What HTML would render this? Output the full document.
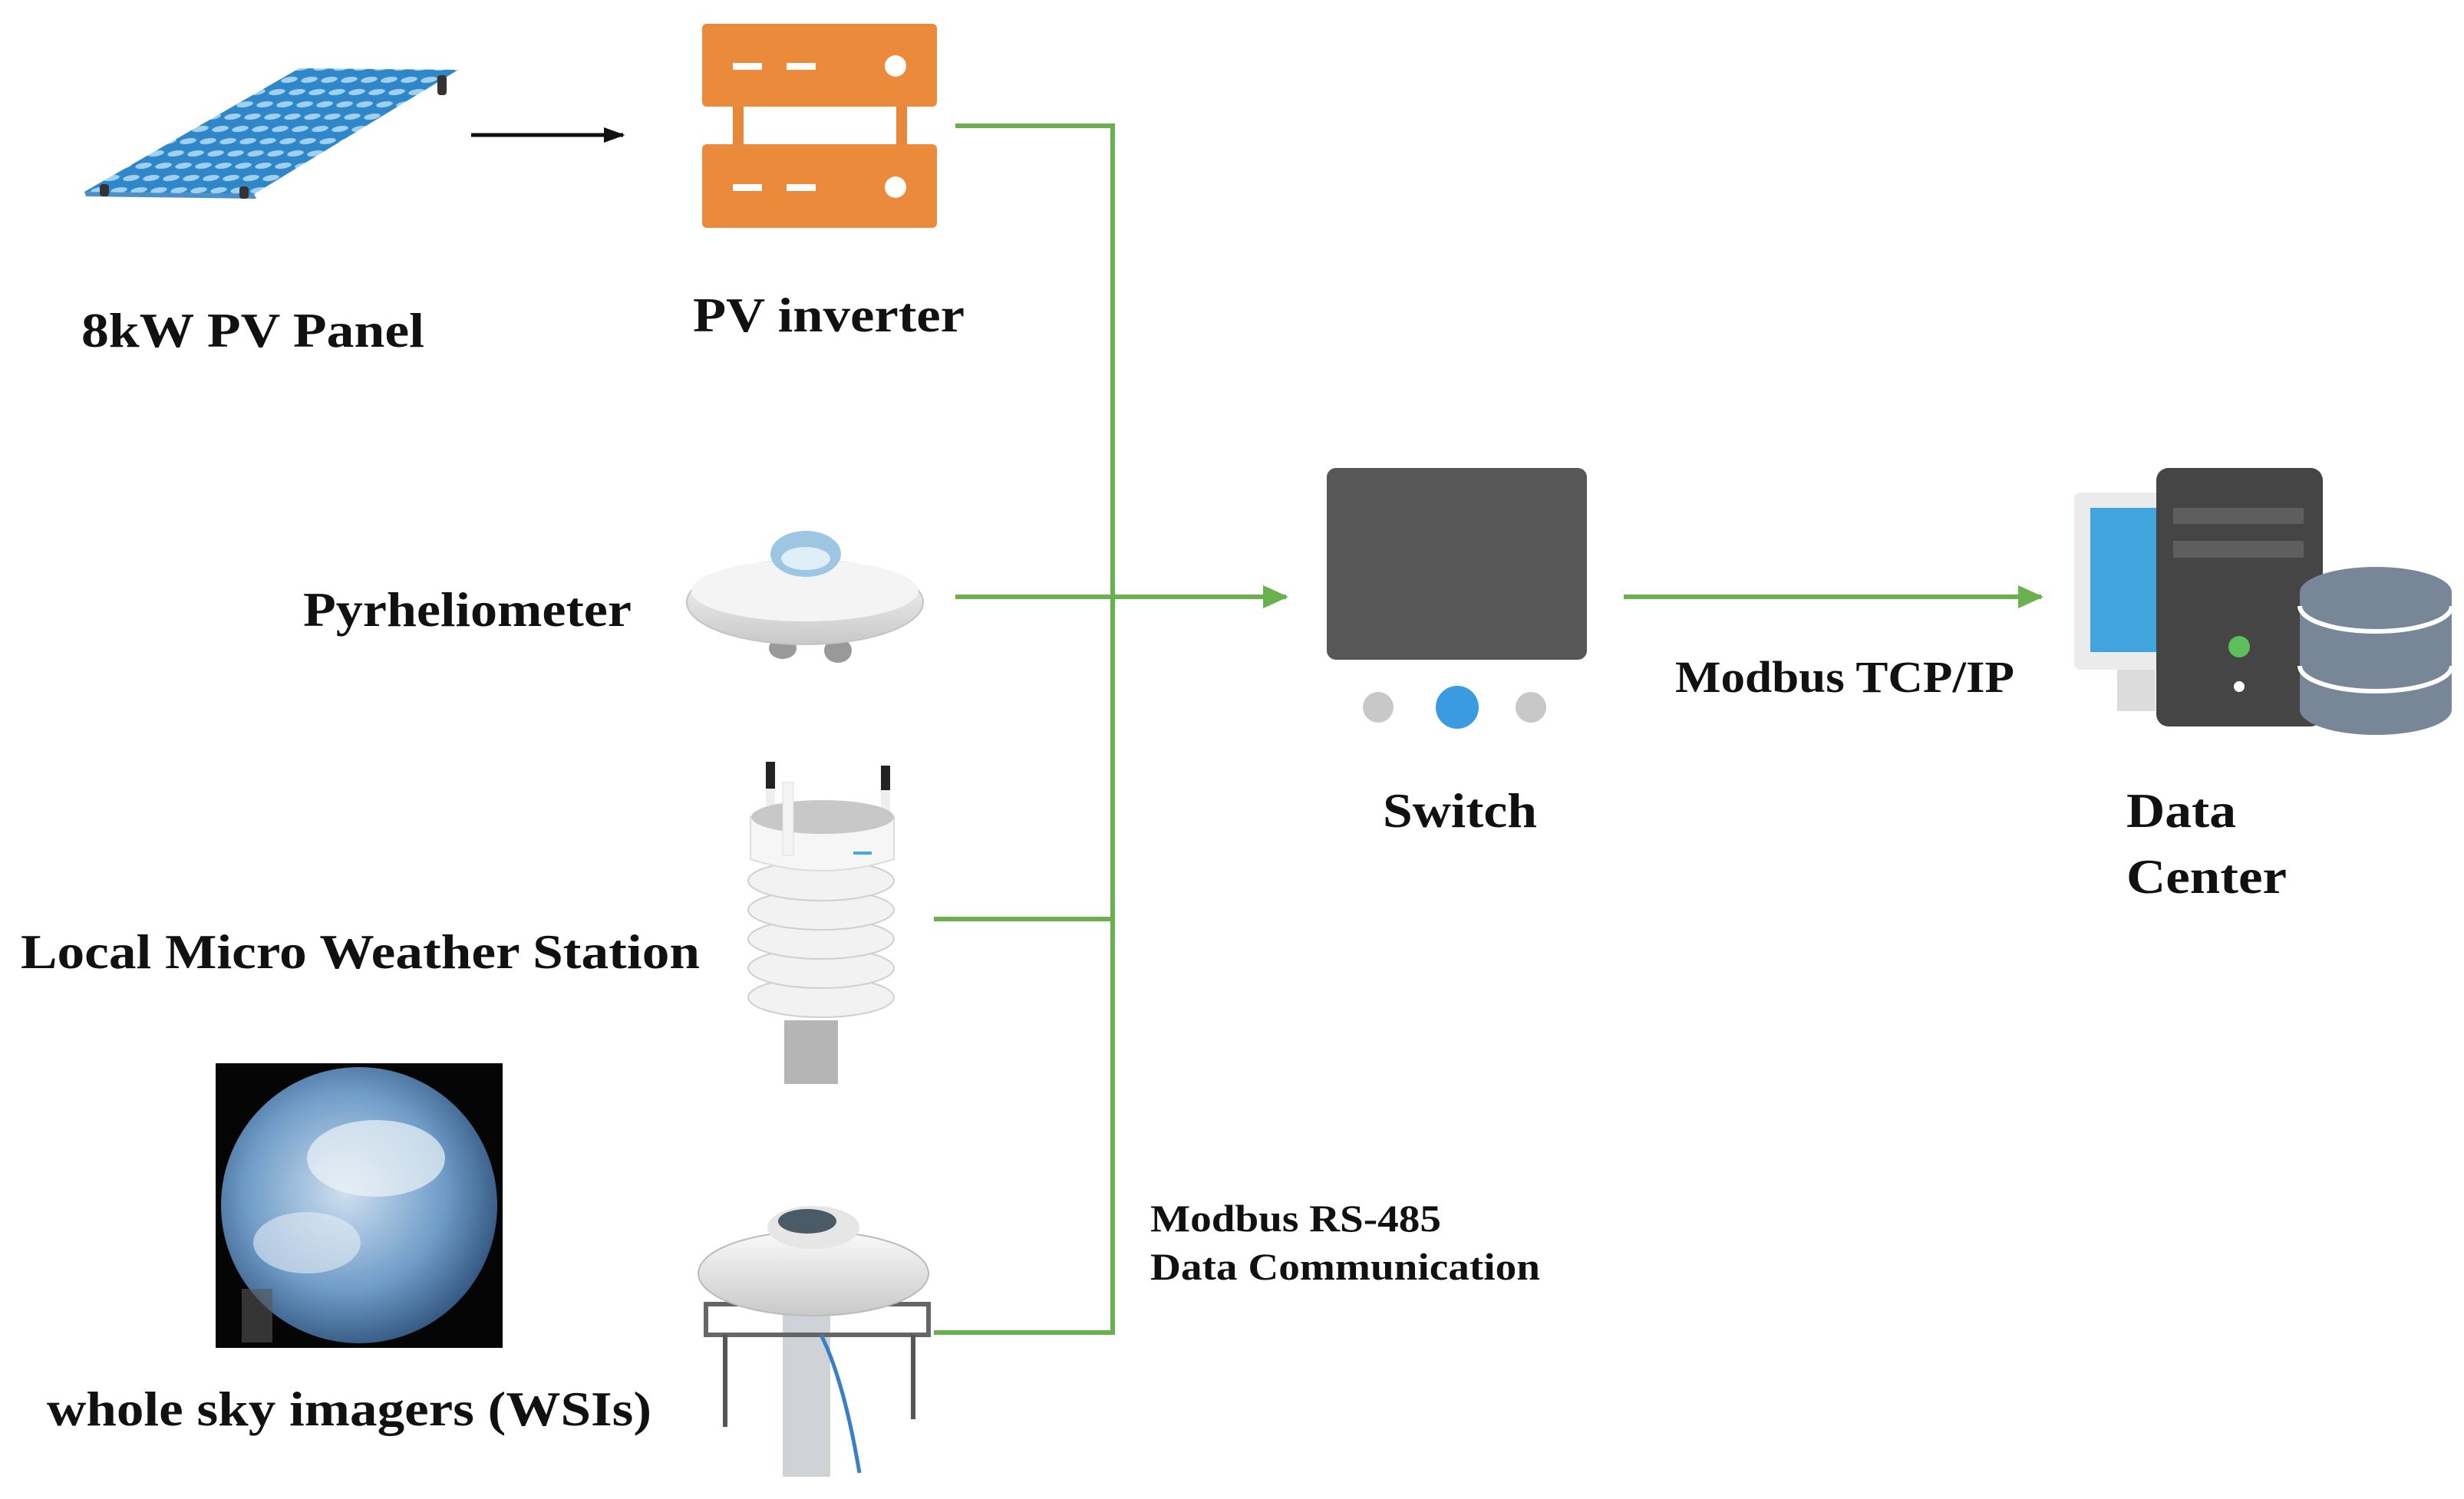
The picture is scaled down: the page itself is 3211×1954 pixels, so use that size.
<!DOCTYPE html>
<html><head><meta charset="utf-8"><style>
html,body{margin:0;padding:0;background:#fff}
svg{display:block}
text{font-family:"Liberation Serif",serif;font-weight:bold;fill:#111}
</style></head><body>
<svg width="3211" height="1954" viewBox="0 0 3211 1954" xmlns="http://www.w3.org/2000/svg">
<defs>
<pattern id="cells" width="26" height="16" patternUnits="userSpaceOnUse" patternTransform="skewX(-45)"><rect width="26" height="16" fill="#2f86c8"/><ellipse cx="13" cy="8" rx="10" ry="4" fill="#9fd0f0"/></pattern>
<radialGradient id="sky" cx="0.45" cy="0.45" r="0.6"><stop offset="0" stop-color="#cfe0f0"/><stop offset="0.6" stop-color="#6f9cc8"/><stop offset="1" stop-color="#2d4f78"/></radialGradient>
<linearGradient id="disc" x1="0" y1="0" x2="0" y2="1"><stop offset="0" stop-color="#fafafa"/><stop offset="1" stop-color="#c9c9c9"/></linearGradient>
<marker id="ga" markerWidth="6" markerHeight="6" refX="5" refY="3" orient="auto" markerUnits="strokeWidth"><path d="M0,0.5 L5.5,3 L0,5.5 z" fill="#6ab04c"/></marker>
<marker id="ka" markerWidth="6" markerHeight="6" refX="5" refY="3" orient="auto" markerUnits="strokeWidth"><path d="M0,1 L5.5,3 L0,5 z" fill="#111"/></marker>
</defs>

<!-- PV panel -->
<polygon points="390,89 597,91 331,253 110,250" fill="url(#cells)"/>
<polygon points="110,250 331,253 334,259 112,256" fill="#4a8fc8"/>
<rect x="130" y="240" width="12" height="16" rx="4" fill="#333"/>
<rect x="312" y="243" width="12" height="16" rx="4" fill="#333"/>
<rect x="570" y="98" width="12" height="26" rx="4" fill="#333"/>
<line x1="614" y1="176" x2="812" y2="176" stroke="#111" stroke-width="5" marker-end="url(#ka)"/>

<!-- inverter -->
<rect x="955" y="135" width="14" height="55" fill="#e8873a"/>
<rect x="1168" y="135" width="14" height="55" fill="#e8873a"/>
<rect x="915" y="31" width="306" height="108" rx="6" fill="#ec8a3c"/>
<rect x="915" y="188" width="306" height="109" rx="6" fill="#ec8a3c"/>
<rect x="955" y="82" width="38" height="9" fill="#fff"/><rect x="1025" y="82" width="38" height="9" fill="#fff"/><circle cx="1167" cy="86" r="14" fill="#fff"/>
<rect x="955" y="240" width="38" height="9" fill="#fff"/><rect x="1025" y="240" width="38" height="9" fill="#fff"/><circle cx="1167" cy="244" r="14" fill="#fff"/>

<text x="106" y="452" font-size="64" textLength="447" lengthAdjust="spacingAndGlyphs">8kW PV Panel</text>
<text x="903" y="432" font-size="64" textLength="354" lengthAdjust="spacingAndGlyphs">PV inverter</text>

<!-- green lines -->
<g stroke="#6ab04c" stroke-width="6" fill="none">
<polyline points="1245,164 1450,164 1450,1737 1217,1737"/>
<line x1="1217" y1="1198" x2="1450" y2="1198"/>
<line x1="1245" y1="778" x2="1676" y2="778" marker-end="url(#ga)"/>
<line x1="2116" y1="778" x2="2660" y2="778" marker-end="url(#ga)"/>
</g>

<!-- pyrheliometer -->
<ellipse cx="1020" cy="845" rx="18" ry="14" fill="#999"/><ellipse cx="1092" cy="848" rx="18" ry="16" fill="#999"/>
<ellipse cx="1049" cy="785" rx="154" ry="55" fill="url(#disc)" stroke="#c4c4c4" stroke-width="2"/>
<ellipse cx="1049" cy="770" rx="148" ry="40" fill="#f4f4f4"/>
<ellipse cx="1050" cy="722" rx="46" ry="30" fill="#9cc6e2"/>
<ellipse cx="1050" cy="728" rx="32" ry="15" fill="#dfeef7"/>
<text x="395" y="816" font-size="64" textLength="428" lengthAdjust="spacingAndGlyphs">Pyrheliometer</text>

<!-- weather station -->
<rect x="998" y="993" width="12" height="100" fill="#eee"/><rect x="998" y="993" width="12" height="35" fill="#222"/>
<rect x="1148" y="998" width="12" height="90" fill="#eee"/><rect x="1148" y="998" width="12" height="32" fill="#222"/>
<rect x="1022" y="1330" width="70" height="83" fill="#b5b5b5"/>
<g fill="#f2f2f2" stroke="#d0d0d0" stroke-width="2">
<ellipse cx="1070" cy="1300" rx="95" ry="26"/>
<ellipse cx="1070" cy="1262" rx="95" ry="26"/>
<ellipse cx="1070" cy="1224" rx="95" ry="26"/>
<ellipse cx="1070" cy="1186" rx="95" ry="26"/>
<ellipse cx="1070" cy="1148" rx="95" ry="26"/>
</g>
<path d="M978,1065 L1165,1065 L1165,1120 Q1070,1150 978,1120 Z" fill="#f6f6f6" stroke="#ddd" stroke-width="2"/>
<ellipse cx="1072" cy="1065" rx="93" ry="22" fill="#c8c8c8"/>
<rect x="1020" y="1020" width="14" height="95" fill="#f4f4f4" stroke="#ddd"/>
<rect x="1112" y="1110" width="24" height="4" fill="#49a6d6"/>
<text x="27" y="1262" font-size="64" textLength="885" lengthAdjust="spacingAndGlyphs">Local Micro Weather Station</text>

<!-- sky image -->
<rect x="281" y="1386" width="374" height="371" fill="#050505"/>
<circle cx="468" cy="1571" r="180" fill="url(#sky)"/>
<ellipse cx="490" cy="1510" rx="90" ry="50" fill="#eef3f8" opacity=".7"/>
<ellipse cx="400" cy="1620" rx="70" ry="40" fill="#e6edf5" opacity=".6"/>
<rect x="315" y="1680" width="40" height="70" fill="#555" opacity=".6"/>

<!-- WSI device -->
<rect x="1020" y="1690" width="62" height="235" fill="#cfd3d8"/>
<rect x="920" y="1700" width="290" height="40" fill="none" stroke="#666" stroke-width="6"/>
<line x1="945" y1="1740" x2="945" y2="1860" stroke="#555" stroke-width="6"/>
<line x1="1190" y1="1740" x2="1190" y2="1850" stroke="#555" stroke-width="6"/>
<ellipse cx="1060" cy="1660" rx="150" ry="55" fill="url(#disc)" stroke="#bbb" stroke-width="2"/>
<ellipse cx="1060" cy="1600" rx="60" ry="28" fill="#e6e6e6"/>
<ellipse cx="1052" cy="1592" rx="38" ry="16" fill="#4a5a66"/>
<path d="M1070,1740 Q1100,1800 1120,1920" stroke="#3a7ec4" stroke-width="5" fill="none"/>
<text x="61" y="1858" font-size="64" textLength="788" lengthAdjust="spacingAndGlyphs">whole sky imagers (WSIs)</text>

<text x="1499" y="1605" font-size="50" textLength="379" lengthAdjust="spacingAndGlyphs">Modbus RS-485</text>
<text x="1499" y="1668" font-size="50" textLength="508" lengthAdjust="spacingAndGlyphs">Data Communication</text>

<!-- switch -->
<rect x="1729" y="610" width="339" height="250" rx="12" fill="#575757"/>
<circle cx="1796" cy="922" r="20" fill="#c8c8c8"/>
<circle cx="1899" cy="922" r="28" fill="#3b9be0"/>
<circle cx="1995" cy="922" r="20" fill="#c8c8c8"/>
<text x="1802" y="1078" font-size="64" textLength="201" lengthAdjust="spacingAndGlyphs">Switch</text>
<text x="2183" y="902" font-size="58" textLength="442" lengthAdjust="spacingAndGlyphs">Modbus TCP/IP</text>

<!-- data center -->
<rect x="2703" y="642" width="115" height="231" rx="8" fill="#ebebeb"/>
<rect x="2724" y="662" width="94" height="188" fill="#42a4dd"/>
<rect x="2759" y="873" width="50" height="54" fill="#dcdcdc"/>
<rect x="2810" y="610" width="217" height="337" rx="16" fill="#454545"/>
<rect x="2832" y="662" width="170" height="21" fill="#5e5e5e"/>
<rect x="2832" y="705" width="170" height="22" fill="#5e5e5e"/>
<circle cx="2918" cy="843" r="14" fill="#5cbf5c"/>
<circle cx="2918" cy="895" r="7" fill="#fff"/>
<path d="M2997,772 L2997,925 A99,33 0 0 0 3195,925 L3195,772 Z" fill="#778797"/>
<ellipse cx="3096" cy="772" rx="99" ry="33" fill="#778797"/>
<path d="M2997,790 A99,33 0 0 0 3195,790" stroke="#fff" stroke-width="6" fill="none"/>
<path d="M2997,868 A99,33 0 0 0 3195,868" stroke="#fff" stroke-width="6" fill="none"/>
<text x="2771" y="1078" font-size="64" textLength="143" lengthAdjust="spacingAndGlyphs">Data</text>
<text x="2771" y="1164" font-size="64" textLength="209" lengthAdjust="spacingAndGlyphs">Center</text>
</svg>
</body></html>
